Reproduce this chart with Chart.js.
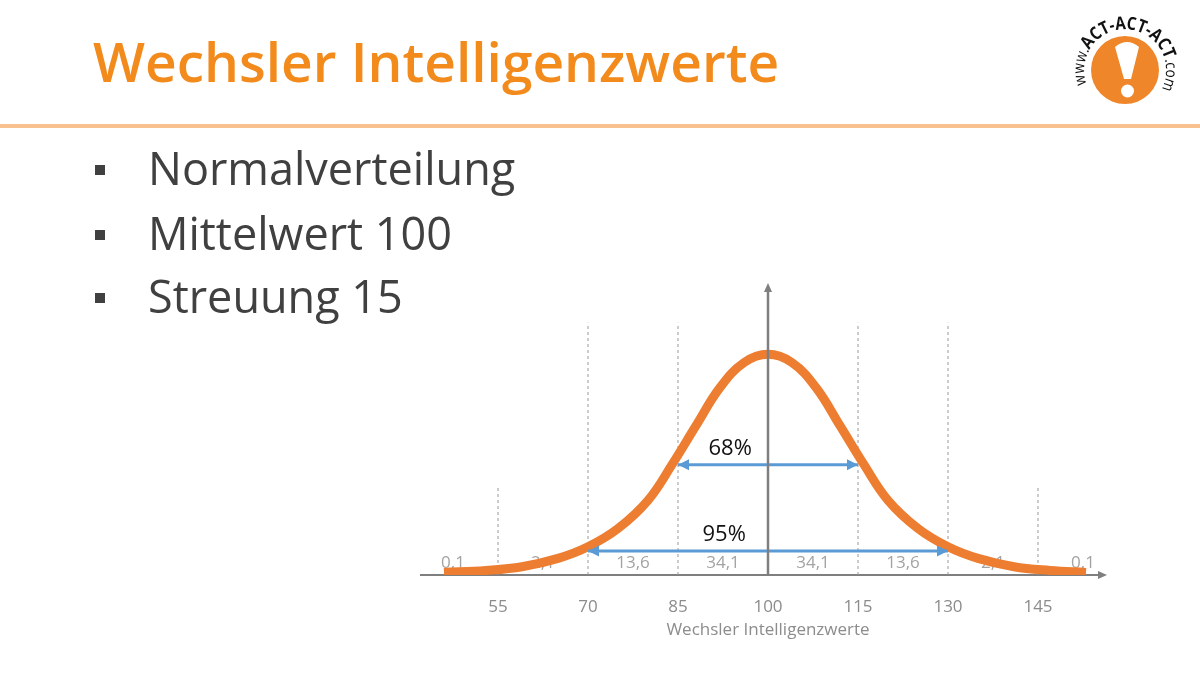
<!DOCTYPE html>
<html lang="de">
<head>
<meta charset="utf-8">
<title>Wechsler Intelligenzwerte</title>
<script src="https://cdn.jsdelivr.net/npm/chart.js@4.4.1/dist/chart.umd.min.js"></script>
<style>
  html, body { margin: 0; padding: 0; background: #fff; }
  #slide { position: relative; width: 1200px; height: 675px; overflow: hidden; font-family: 'Open Sans', sans-serif; }
  #chart { position: absolute; left: 0; top: 0; }
  .title { position: absolute; left: 93px; top: 33px; font-size: 55px; line-height: 1; font-weight: 600; color: #f28a1c; white-space: nowrap; }
  .rule { position: absolute; left: 0; top: 124px; width: 1200px; height: 4px; background: #f9c18f; }
  .bullet { position: absolute; left: 148px; font-size: 45px; line-height: 1; color: #404040; white-space: nowrap; }
  .bullet::before { content: ''; position: absolute; left: -53px; top: 20px; width: 10px; height: 10px; background: #404040; }
  #logo { position: absolute; left: 1050px; top: 0; }
</style>
</head>
<body>
<div id="slide">
  <canvas id="chart" width="1200" height="675"></canvas>
  <div class="title">Wechsler Intelligenzwerte</div>
  <div class="rule"></div>
  <div class="bullet" style="top:145px">Normalverteilung</div>
  <div class="bullet" style="top:210px">Mittelwert 100</div>
  <div class="bullet" style="top:273px">Streuung 15</div>
  <svg id="logo" width="150" height="120" viewBox="1050 0 150 120">
    <circle cx="1125" cy="70" r="34" fill="#f0862a"/>
    <path d="M1115 47 Q1127 37 1139 47 L1131 79 L1124 79 Z" fill="#fff"/>
    <circle cx="1127.5" cy="91" r="6.5" fill="#fff"/>
    <defs>
      <path id="ring" d="M1086.5 84 A41 41 0 1 1 1163 86"/>
    </defs>
    <text font-family="'Open Sans', sans-serif" fill="#111">
      <textPath href="#ring" textLength="162" lengthAdjust="spacingAndGlyphs"><tspan font-size="16">www.</tspan><tspan font-size="18" font-weight="700">ACT-ACT-ACT</tspan><tspan font-size="16">.com</tspan></textPath>
    </text>
  </svg>
</div>
<script>
// IQ axis ticks
const tickValues = [55, 70, 85, 100, 115, 130, 145];

// bell curve (density in per mille)
const curveX = [46, 53, 59, 65, 70, 75, 80, 84, 88, 92, 96, 100, 104, 108, 112, 116, 120, 125, 130, 135, 141, 147, 153];
const curveY = [0.3, 0.55, 1.0, 2.0, 3.4, 5.6, 9.0, 13.3, 18.0, 22.6, 25.6, 26.6, 25.6, 22.6, 18.0, 13.3, 9.0, 5.6, 3.4, 2.0, 1.0, 0.55, 0.3];

// dashed guide lines
const guideX = [55, 70, 85, 115, 130, 145];
const guideTop = [10.5, 30.4, 30.4, 30.4, 30.4, 10.5];

// share of people per band (percent)
const bandCenters = [47.5, 62.5, 77.5, 92.5, 107.5, 122.5, 137.5, 152.5];
const bandLabels = ['0,1', '2,1', '13,6', '34,1', '34,1', '13,6', '2,1', '0,1'];

// the two range arrows
const rangeLabels = ['68%', '95%'];
const rangeFrom = [85, 70];
const rangeTo = [115, 130];
const rangeY = [13.3, 2.9];
const rangeLabelX = [93.7, 92.7];

const axisTitle = 'Wechsler Intelligenzwerte';
const AXIS_GREY = '#7f7f7f';
const ARROW_BLUE = '#5b9bd5';

Chart.defaults.font.family = "'Open Sans', sans-serif";

const datasets = [];

// curve
datasets.push({
    label: 'Normalverteilung',
    data: curveX.map((x, i) => ({ x: x, y: curveY[i] })),
    borderColor: '#ed7d31',
    borderWidth: 9,
    borderCapStyle: 'butt',
    tension: 0.4,
    pointRadius: 0,
    order: 1
});

// guides
guideX.forEach((x, i) => {
    datasets.push({
        label: 'guide' + x,
        data: [{ x: x, y: 0 }, { x: x, y: guideTop[i] }],
        borderColor: '#9a9a9a',
        borderWidth: 1,
        borderDash: [3, 3],
        pointRadius: 0,
        order: 3
    });
});

// range arrows
rangeLabels.forEach((lbl, i) => {
    datasets.push({
        label: lbl,
        isRange: true,
        data: [{ x: rangeFrom[i], y: rangeY[i] }, { x: rangeTo[i], y: rangeY[i] }],
        borderColor: ARROW_BLUE,
        borderWidth: 3,
        pointRadius: 0,
        order: 0
    });
});

function arrowHead(ctx, x, y, dir, len, half, color) {
    // dir: 1 right, -1 left, 0 up
    ctx.save();
    ctx.fillStyle = color;
    ctx.beginPath();
    if (dir === 0) {
        ctx.moveTo(x, y);
        ctx.lineTo(x - half, y + len);
        ctx.lineTo(x + half, y + len);
    } else {
        ctx.moveTo(x, y);
        ctx.lineTo(x - dir * len, y - half);
        ctx.lineTo(x - dir * len, y + half);
    }
    ctx.closePath();
    ctx.fill();
    ctx.restore();
}

const slidePlugin = {
    id: 'slide',
    beforeDatasetsDraw(chart) {
        const { ctx, chartArea, scales: { x, y } } = chart;
        const y0 = y.getPixelForValue(0);
        // horizontal axis
        ctx.save();
        ctx.strokeStyle = AXIS_GREY;
        ctx.lineWidth = 2;
        ctx.beginPath();
        ctx.moveTo(chartArea.left, y0);
        ctx.lineTo(chartArea.right, y0);
        ctx.stroke();
        ctx.restore();
        arrowHead(ctx, chartArea.right + 6, y0, 1, 9, 4, AXIS_GREY);

        // band percentages
        ctx.save();
        ctx.fillStyle = '#a3a3a3';
        ctx.font = "17px 'Open Sans', sans-serif";
        ctx.textAlign = 'center';
        ctx.textBaseline = 'middle';
        bandLabels.forEach((t, i) => {
            ctx.fillText(t, x.getPixelForValue(bandCenters[i]), y0 - 12);
        });
        // axis title, centred under the mean
        ctx.fillStyle = '#8c8c8c';
        ctx.fillText(axisTitle, x.getPixelForValue(100), y0 + 55);
        ctx.restore();
    },
    afterDatasetsDraw(chart) {
        const { ctx, chartArea, scales: { x, y } } = chart;
        const y0 = y.getPixelForValue(0);
        const xm = x.getPixelForValue(100);
        // vertical axis
        ctx.save();
        ctx.strokeStyle = AXIS_GREY;
        ctx.lineWidth = 2.5;
        ctx.beginPath();
        ctx.moveTo(xm, y0);
        ctx.lineTo(xm, chartArea.top + 6);
        ctx.stroke();
        ctx.restore();
        arrowHead(ctx, xm, chartArea.top, 0, 9, 4, AXIS_GREY);

        // arrow heads + labels on the range arrows
        chart.data.datasets.forEach((ds, i) => {
            if (!ds.isRange) return;
            const pts = chart.getDatasetMeta(i).data;
            arrowHead(ctx, pts[0].x, pts[0].y, -1, 11, 5.5, ARROW_BLUE);
            arrowHead(ctx, pts[1].x, pts[1].y, 1, 11, 5.5, ARROW_BLUE);
        });
        ctx.save();
        ctx.fillStyle = '#111';
        ctx.font = "22px 'Open Sans', sans-serif";
        ctx.textAlign = 'center';
        ctx.textBaseline = 'middle';
        rangeLabels.forEach((t, i) => {
            ctx.fillText(t, x.getPixelForValue(rangeLabelX[i]), y.getPixelForValue(rangeY[i]) - 16);
        });
        ctx.restore();
    }
};

new Chart(document.getElementById('chart'), {
    type: 'line',
    data: { datasets: datasets },
    options: {
        responsive: false,
        animation: false,
        layout: { padding: { left: 420, right: 99, top: 283, bottom: 0 } },
        plugins: { legend: { display: false }, tooltip: { enabled: false } },
        scales: {
            x: {
                type: 'linear',
                min: 42,
                max: 155.5,
                afterBuildTicks: (s) => { s.ticks = tickValues.map(v => ({ value: v })); },
                afterFit: (s) => { s.height = 100; },
                grid: { display: false, drawTicks: false },
                border: { display: false },
                ticks: { color: '#8c8c8c', font: { size: 17 }, padding: 22, autoSkip: false, maxRotation: 0 },
                title: { display: false }
            },
            y: { display: false, min: 0, max: 35.2 }
        }
    },
    plugins: [slidePlugin]
});
</script>
</body>
</html>
